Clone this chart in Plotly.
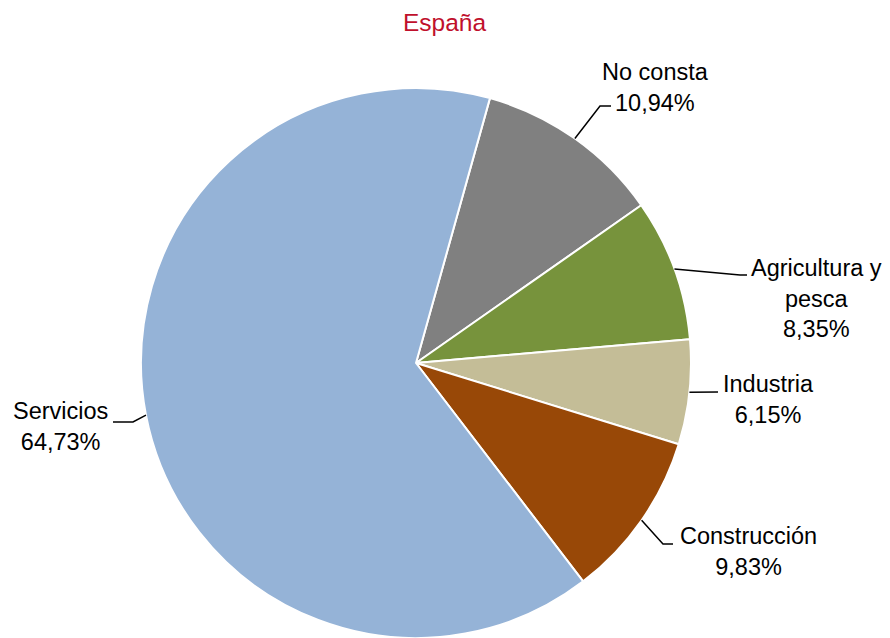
import math
import plotly.graph_objects as go

# ---- data ----
categories = ["No consta", "Agricultura y pesca", "Industria", "Construcción", "Servicios"]
label_text = ["No consta", "Agricultura y<br>pesca", "Industria", "Construcción", "Servicios"]
values = [10.94, 8.35, 6.15, 9.83, 64.73]
colors = ["#808080", "#77933C", "#C4BD97", "#984807", "#95B3D7"]
title = "España"

# ---- layout / style (screen pixels) ----
W, H = 890, 638
OFF = 8  # page body margin
CX, CY, R = 416, 363, 275
ROTATION = 15.6
# label block centers and leader-line elbow / end points (screen pixels)
label_pos = [(655, 87), (816, 298), (768, 399), (748, 551), (60, 426)]
elbow_pos = [(600, 106), (740, 275), (718, 392), (663, 544), (133, 422)]
end_pos = [(611, 106), (747, 275), (718, 392), (673, 544), (113, 422)]

FONT = "Liberation Sans, Arial, sans-serif"


def px(x):
    return (x - OFF) / W


def py(y):
    return 1 - (y - OFF) / H


fig = go.Figure()
fig.add_trace(go.Pie(
    labels=categories,
    values=values,
    sort=False,
    direction="clockwise",
    rotation=ROTATION,
    marker=dict(colors=colors, line=dict(color="white", width=2)),
    textinfo="none",
    domain=dict(x=[px(CX - R), px(CX + R)], y=[py(CY + R), py(CY - R)]),
    showlegend=False,
))

total = sum(values)
cum = ROTATION
annotations = []
shapes = []
for i, v in enumerate(values):
    span = v / total * 360
    mid = math.radians(cum + span / 2)
    cum += span
    ex = CX + R * math.sin(mid)
    ey = CY - R * math.cos(mid)
    (bx, by), (tx, ty) = elbow_pos[i], end_pos[i]
    path = f"M {px(ex)} {py(ey)} L {px(bx)} {py(by)} L {px(tx)} {py(ty)}"
    shapes.append(dict(type="path", xref="paper", yref="paper", path=path,
                       line=dict(color="black", width=1.5)))
    pct = f"{v:.2f}".replace(".", ",") + "%"
    lx, ly = label_pos[i]
    annotations.append(dict(
        x=px(lx), y=py(ly), xref="paper", yref="paper",
        text=f"{label_text[i]}<br>{pct}", showarrow=False,
        xanchor="center", yanchor="middle", align="center",
        font=dict(family=FONT, size=23.5, color="black"),
    ))

annotations.append(dict(
    x=px(444), y=py(23), xref="paper", yref="paper", text=title,
    showarrow=False, xanchor="center", yanchor="middle",
    font=dict(family=FONT, size=24.5, color="#C0102C"),
))

fig.update_layout(
    width=W, height=H,
    margin=dict(l=0, r=0, t=0, b=0),
    paper_bgcolor="white", plot_bgcolor="white",
    annotations=annotations, shapes=shapes,
)

fig.write_html("out.html")
